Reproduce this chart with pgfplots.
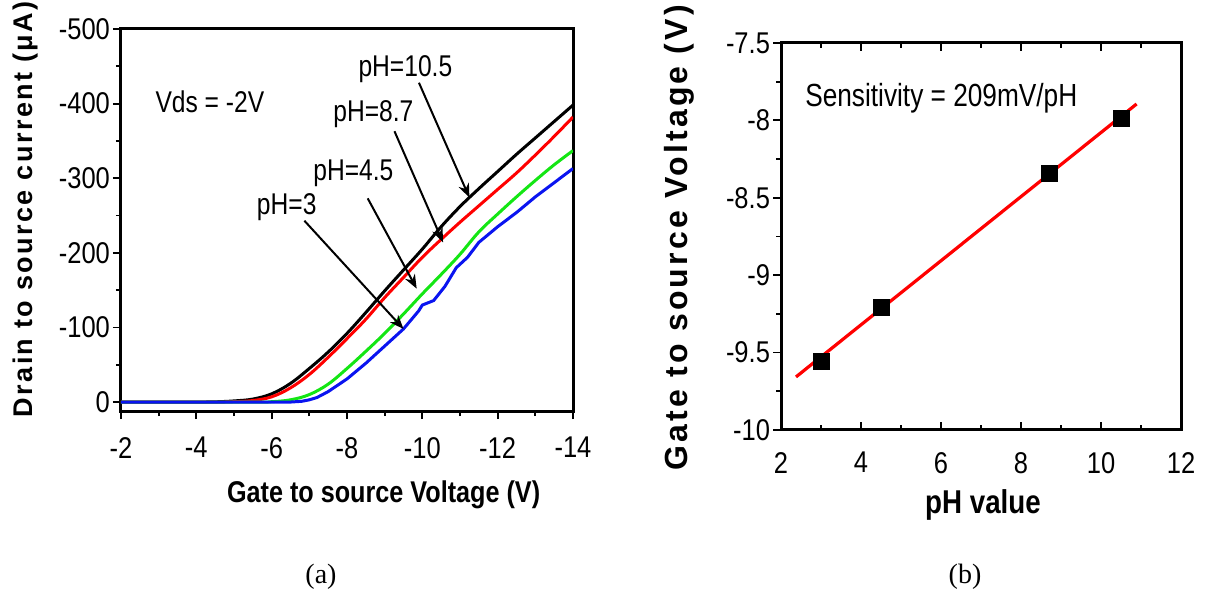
\documentclass[border=0pt]{standalone}
\usepackage{fontspec}
\setmainfont{Liberation Sans}
\newfontfamily\narrow[FakeStretch=0.85]{Liberation Sans}
\newfontfamily\annotfont[FakeStretch=0.82]{Liberation Sans}
\newfontfamily\boldnarrow[FakeStretch=0.84]{Liberation Sans}
\newfontfamily\spacedA[LetterSpace=9]{Liberation Sans}
\newfontfamily\spacedB[LetterSpace=10]{Liberation Sans}
\newfontfamily\capfont{Liberation Serif}
\usepackage{pgfplots}
\pgfplotsset{compat=1.18}
\usetikzlibrary{arrows.meta}

\definecolor{cgreen}{RGB}{20,230,20}
\definecolor{cblue}{RGB}{10,20,240}

\tikzset{arr/.style={black, line width=1pt, -{Stealth[length=7pt,width=5.5pt]}}}

\pgfplotsset{
  panel/.style={
    scale only axis,
    axis line style={line width=1.5pt},
    every tick/.style={black, line width=0.9pt},
    major tick length=4pt, minor tick length=2.5pt,
    /pgf/number format/assume math mode=true,
    tick label style={font=\narrow\fontsize{15}{15}\selectfont},
    clip=true,
  },
}

\begin{document}
\begin{tikzpicture}
\useasboundingbox (0,0) rectangle (606.5pt,-296pt);

% (a) transfer curves
\begin{axis}[panel,
  at={(60.5pt,-14.5pt)}, anchor=north west,
  width=226pt, height=191pt,
  xmin=-14, xmax=-2, x dir=reverse,
  ymin=-500, ymax=12, y dir=reverse,
  xtick={-14,-12,...,-2}, ytick={-500,-400,...,0},
  minor x tick num=1, minor y tick num=1,
  xtick pos=left, ytick pos=left,
  xtick align=outside, ytick align=outside,
  xticklabel style={yshift=-5.5pt},
  yticklabel style={xshift=2pt},
  xlabel={Gate to source Voltage (V)},
  ylabel={Drain to source current (μA)},
  xlabel style={font=\boldnarrow\bfseries\fontsize{15}{15}\selectfont,
    at={(axis description cs:0.581,-0.22)}, anchor=center},
  ylabel style={font=\spacedA\bfseries\fontsize{13.5}{13.5}\selectfont,
    at={(axis description cs:-0.212,0.528)}, anchor=center},
]
\addplot[black, line width=1.5pt, smooth, tension=0.6] coordinates {
  (-2,0) (-3,0) (-4,0) (-4.5,-0.3) (-5,-1.5) (-5.5,-4) (-6,-11) (-6.5,-25)
  (-7,-45) (-7.5,-67) (-8,-92) (-8.5,-120) (-9,-149) (-9.5,-177) (-10,-205)
  (-10.5,-235) (-11,-262) (-11.5,-286) (-12,-309) (-12.5,-332) (-13,-354)
  (-13.5,-376) (-14,-398)
};
\addplot[red, line width=1.5pt, smooth, tension=0.6] coordinates {
  (-2,0) (-4.5,0) (-5,-0.5) (-5.5,-2) (-6,-7) (-6.5,-19) (-7,-37) (-7.5,-60)
  (-8,-85) (-8.5,-111) (-9,-140) (-9.5,-167) (-10,-194) (-10.5,-218)
  (-11,-241) (-11.5,-263) (-12,-285) (-12.5,-307) (-13,-331) (-13.5,-356)
  (-14,-382)
};
\addplot[cgreen, line width=1.5pt, smooth, tension=0.6] coordinates {
  (-2,0) (-5.5,0) (-6,-0.5) (-6.5,-3) (-7,-10) (-7.5,-24) (-8,-45) (-8.5,-68)
  (-9,-92) (-9.5,-118) (-10,-145) (-10.5,-171) (-11,-198) (-11.5,-228)
  (-12,-252) (-12.5,-275) (-13,-297) (-13.5,-318) (-14,-337)
};
\addplot[cblue, line width=1.5pt] coordinates {
  (-2,0) (-6.5,0) (-6.8,-1) (-7,-3) (-7.2,-6) (-7.5,-14) (-8,-31) (-8.5,-52)
  (-9,-75) (-9.5,-98) (-9.9,-122) (-10,-130) (-10.3,-136) (-10.6,-155)
  (-10.9,-180) (-11.2,-194) (-11.5,-214) (-12,-235) (-12.5,-254) (-13,-275)
  (-13.5,-294) (-14,-313)
};
\begin{scope}[every node/.style={font=\annotfont\fontsize{15}{15}\selectfont}]
\node at (axis cs:-4.36,-402) {Vds = -2V};
\node at (axis cs:-9.55,-446) {pH=10.5};
\node at (axis cs:-8.70,-386) {pH=8.7};
\node at (axis cs:-8.17,-307) {pH=4.5};
\node at (axis cs:-6.40,-261) {pH=3};
\end{scope}
\draw[arr] (axis cs:-9.91,-428) -- (axis cs:-11.25,-274);
\draw[arr] (axis cs:-9.26,-363) -- (axis cs:-10.55,-214);
\draw[arr] (axis cs:-8.55,-273) -- (axis cs:-9.85,-152);
\draw[arr] (axis cs:-6.87,-243) -- (axis cs:-9.50,-98);
\end{axis}

% (b) sensitivity
\begin{axis}[panel,
  at={(390.5pt,-21.5pt)}, anchor=north west,
  width=200pt, height=193.5pt,
  xmin=2, xmax=12, ymin=-10, ymax=-7.5,
  xtick={2,4,...,12}, ytick={-10,-9.5,...,-7.5},
  minor x tick num=1, minor y tick num=1,
  xtick pos=both, ytick pos=left,
  xtick align=inside, ytick align=outside,
  xticklabel style={yshift=-7.5pt},
  yticklabel style={xshift=2pt},
  xlabel={pH value},
  ylabel={Gate to source Voltage (V)},
  xlabel style={font=\boldnarrow\bfseries\fontsize{16.5}{16.5}\selectfont,
    at={(axis description cs:0.505,-0.194)}, anchor=center},
  ylabel style={font=\spacedB\bfseries\fontsize{16}{16}\selectfont,
    at={(axis description cs:-0.255,0.497)}, anchor=center},
]
\addplot[only marks, mark=square*, mark size=4pt, black] coordinates {
  (3.02,-9.556) (4.52,-9.21) (8.71,-8.345) (10.5,-7.986)
};
\addplot[red, line width=1.6pt] coordinates {(2.375,-9.657) (10.89,-7.894)};
\node[anchor=west, font=\annotfont\fontsize{16}{16}\selectfont]
  at (axis cs:2.43,-7.855) {Sensitivity = 209mV/pH};
\end{axis}

\node[font=\capfont\fontsize{14}{14}\selectfont] at (160.5pt,-288.5pt) {(a)};
\node[font=\capfont\fontsize{14}{14}\selectfont] at (482.5pt,-288.5pt) {(b)};
\end{tikzpicture}
\end{document}
